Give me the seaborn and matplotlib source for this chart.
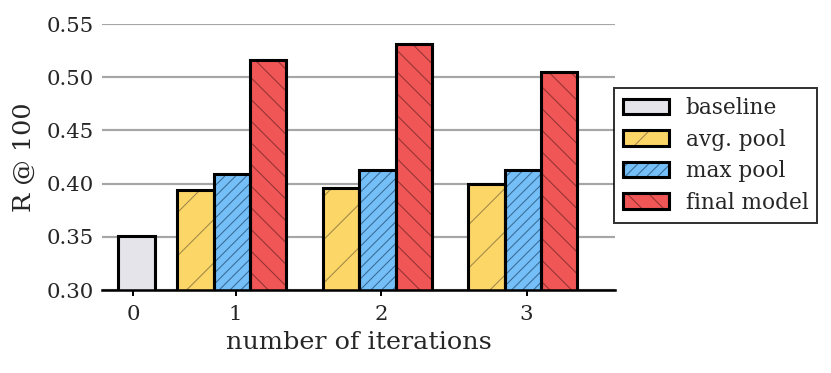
import numpy as np
import matplotlib
matplotlib.use("Agg")
import matplotlib.pyplot as plt
import seaborn as sns
from matplotlib.legend_handler import HandlerTuple

# dados
iteracoes = [1, 2, 3]
baseline = [0.351]
avg_pool = [0.394, 0.396, 0.400]
max_pool = [0.409, 0.413, 0.413]
final_model = [0.516, 0.531, 0.505]
rotulos_x = ["0", "1", "2", "3"]
nomes = ["baseline", "avg. pool", "max pool", "final model"]

# dpi alto para o hachurado ficar espaçado como no original
DPI = 260
sns.set_theme(style="white")
plt.rcParams["font.family"] = ["DejaVu Serif"]
plt.rcParams["hatch.linewidth"] = 0.3
plt.rcParams["axes.edgecolor"] = "black"

cores = ["#e4e4ea", "#fdd668", "#75bff9", "#f15656"]
cores_hatch = ["#e4e4ea", "#a08a48", "#3a6c96", "#963434"]
hatches = ["", "//", "////////", "\\\\\\\\"]
largura = 0.25

fig = plt.figure(figsize=(831 / DPI, 373 / DPI), dpi=DPI)
ax = fig.add_axes([102 / 831, 1 - 290 / 373, 513 / 831, 266 / 373])

posicoes = [
    [0.32],
    [x - 0.275 for x in iteracoes],
    [x - 0.025 for x in iteracoes],
    [x + 0.225 for x in iteracoes],
]
valores = [baseline, avg_pool, max_pool, final_model]

handles = []
for pos, vals, cor, corh, h in zip(posicoes, valores, cores, cores_hatch, hatches):
    n0 = len(ax.patches)
    sns.barplot(x=pos, y=vals, native_scale=True, orient="x", width=largura,
                color=cor, saturation=1, edgecolor=corh, linewidth=0,
                hatch=h, errorbar=None, ax=ax, zorder=2)
    p1 = ax.patches[n0]
    n1 = len(ax.patches)
    sns.barplot(x=pos, y=vals, native_scale=True, orient="x", width=largura,
                color="black", fill=False, linewidth=0.85, errorbar=None,
                ax=ax, zorder=3)
    p2 = ax.patches[n1]
    handles.append((p1, p2))

ax.set_ylim(0.30, 0.55)
ax.set_xlim(0.082, 3.608)
ax.set_yticks([0.30, 0.35, 0.40, 0.45, 0.50, 0.55])
ax.set_yticklabels(["0.30", "0.35", "0.40", "0.45", "0.50", "0.55"])
ax.set_xticks([0.295, 1, 2, 3])
ax.set_xticklabels(rotulos_x)

ax.yaxis.grid(True, color="#a6a6a6", linewidth=0.6, zorder=0)
ax.xaxis.grid(False)
ax.set_axisbelow(True)
for lado in ["left", "right", "top"]:
    ax.spines[lado].set_visible(False)
ax.spines["bottom"].set_linewidth(0.7)
ax.spines["bottom"].set_zorder(4)

ax.tick_params(axis="x", bottom=True, length=1.6, width=0.55, pad=2.6,
               labelsize=5.9, color="black")
ax.tick_params(axis="y", left=False, length=0, pad=2.2, labelsize=5.9)

ax.set_xlabel("number of iterations", fontsize=7.05, labelpad=2.0)
ax.set_ylabel("R @ 100", fontsize=7.05, labelpad=3.0)

leg = fig.legend(handles, nomes, loc="upper left",
                 bbox_to_anchor=(614 / 831, 1 - 88 / 373),
                 bbox_transform=fig.transFigure, borderaxespad=0,
                 fontsize=6.0, frameon=True, fancybox=False,
                 handlelength=2.1, handleheight=0.74, handletextpad=0.78,
                 labelspacing=0.44, borderpad=0.42,
                 handler_map={tuple: HandlerTuple(ndivide=1, pad=0)})
leg.get_frame().set_edgecolor("black")
leg.get_frame().set_linewidth(0.55)

fig.savefig("out.png", dpi=DPI)
